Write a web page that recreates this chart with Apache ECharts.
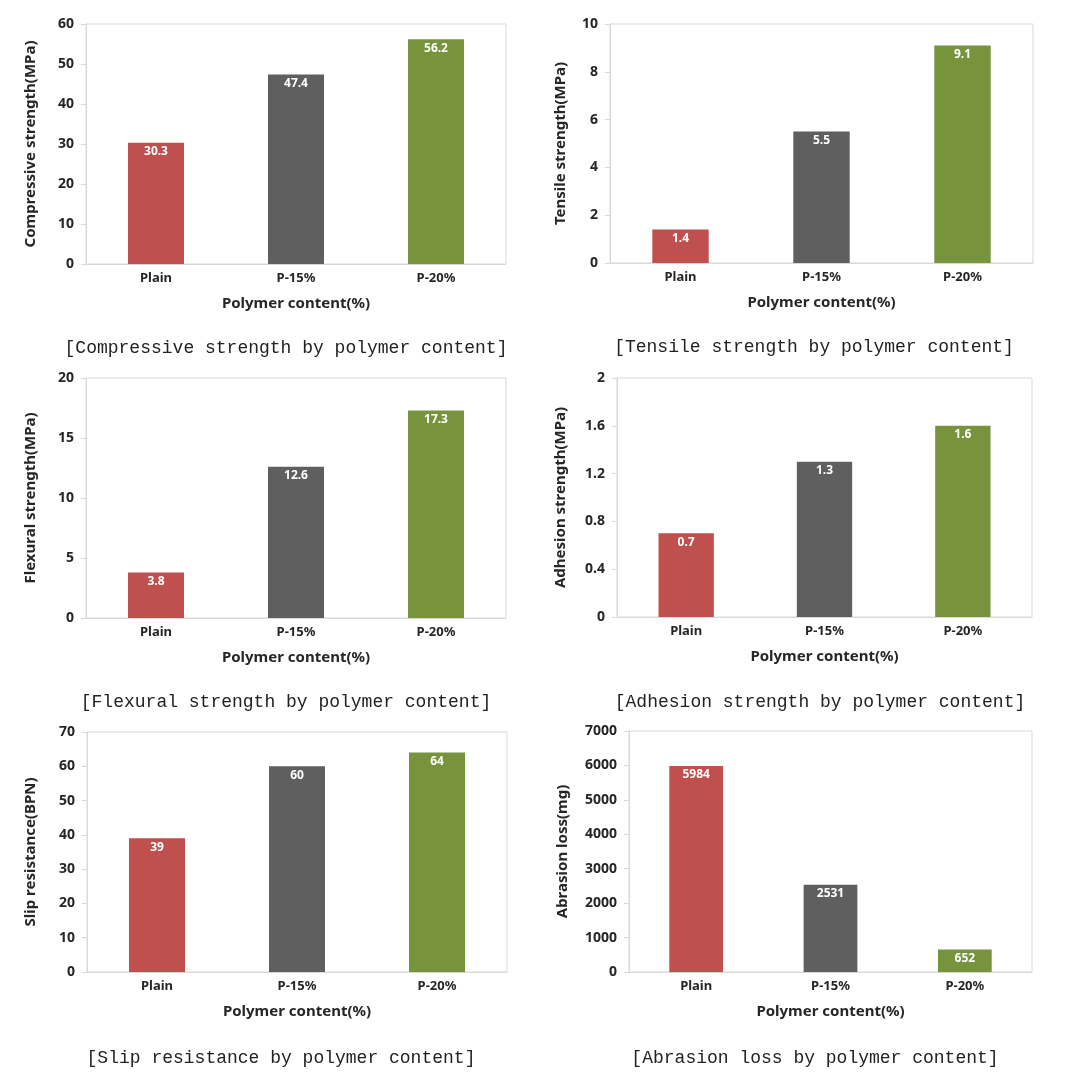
<!DOCTYPE html>
<html>
<head>
<meta charset="utf-8">
<script src="https://cdn.jsdelivr.net/npm/echarts@6/dist/echarts.min.js"></script>
<style>
html,body{margin:0;padding:0;background:#fff;}
#chart{width:1085px;height:1085px;}
</style>
</head>
<body>
<div id="chart"></div>
<script>
const categories = ['Plain', 'P-15%', 'P-20%'];
const compressive = [30.3, 47.4, 56.2];
const tensile = [1.4, 5.5, 9.1];
const flexural = [3.8, 12.6, 17.3];
const adhesion = [0.7, 1.3, 1.6];
const slip = [39, 60, 64];
const abrasion = [5984, 2531, 652];
const yNames = ['Compressive strength(MPa)', 'Tensile strength(MPa)', 'Flexural strength(MPa)',
  'Adhesion strength(MPa)', 'Slip resistance(BPN)', 'Abrasion loss(mg)'];
const yMax = [60, 10, 20, 2, 70, 7000];
const yInterval = [10, 2, 5, 0.4, 10, 1000];
const xName = 'Polymer content(%)';
const captions = ['[Compressive strength by polymer content]', '[Tensile strength by polymer content]',
  '[Flexural strength by polymer content]', '[Adhesion strength by polymer content]',
  '[Slip resistance by polymer content]', '[Abrasion loss by polymer content]'];
const seriesData = [compressive, tensile, flexural, adhesion, slip, abrasion];

const barColors = ['#C0504D', '#5F5F5F', '#77933C'];
const grids = [
  {left: 86, top: 24, width: 420, height: 240},
  {left: 610, top: 24, width: 423, height: 239},
  {left: 86, top: 378, width: 420, height: 240},
  {left: 617, top: 378, width: 415, height: 239},
  {left: 87, top: 732, width: 420, height: 240},
  {left: 629, top: 731, width: 403, height: 241}
];
const yNameGaps = [48, 42, 48, 49, 49, 59];
const captionPos = [[286, 348], [814, 347], [286, 702], [820, 702], [281, 1058], [815, 1058]];
const FONT = 'Noto Sans';
const txt = '#262626';
const lineC = '#D9D9D9';

const option = {
  animation: false,
  backgroundColor: '#fff',
  grid: grids.map(g => Object.assign({show: true, borderColor: lineC, borderWidth: 1, backgroundColor: '#fff'}, g)),
  xAxis: grids.map((g, i) => ({
    gridIndex: i, type: 'category', data: categories,
    name: xName, nameLocation: 'middle', nameGap: 32,
    nameTextStyle: {fontFamily: FONT, fontWeight: 'bold', fontSize: 15, color: txt},
    axisLine: {show: true, lineStyle: {color: lineC}},
    axisTick: {show: false},
    axisLabel: {fontFamily: FONT, fontWeight: 'bold', fontSize: 13, color: txt, margin: 8}
  })),
  yAxis: grids.map((g, i) => ({
    gridIndex: i, type: 'value', min: 0, max: yMax[i], interval: yInterval[i],
    name: yNames[i], nameLocation: 'middle', nameRotate: 90, nameGap: yNameGaps[i],
    nameTextStyle: {fontFamily: FONT, fontWeight: 'bold', fontSize: 15, color: txt},
    splitLine: {show: false},
    axisLine: {show: true, lineStyle: {color: lineC}},
    axisTick: {show: true, length: 5, lineStyle: {color: lineC}},
    axisLabel: {fontFamily: FONT, fontWeight: 'bold', fontSize: 14, color: txt, margin: 12,
      formatter: v => String(v)}
  })),
  series: seriesData.map((d, i) => ({
    type: 'bar', xAxisIndex: i, yAxisIndex: i, data: d, barWidth: '40%',
    itemStyle: {color: p => barColors[p.dataIndex]},
    label: {show: true, position: 'insideTop', distance: 3, color: '#fff',
      fontFamily: FONT, fontWeight: 'bold', fontSize: 12}
  })),
  graphic: captions.map((c, i) => ({
    type: 'text', x: captionPos[i][0], y: captionPos[i][1],
    style: {text: c, fill: '#222', font: '18px "Liberation Mono"', textAlign: 'center', textVerticalAlign: 'middle'}
  }))
};
const chart = echarts.init(document.getElementById('chart'), null, {renderer: 'canvas'});
chart.setOption(option);
</script>
</body>
</html>
